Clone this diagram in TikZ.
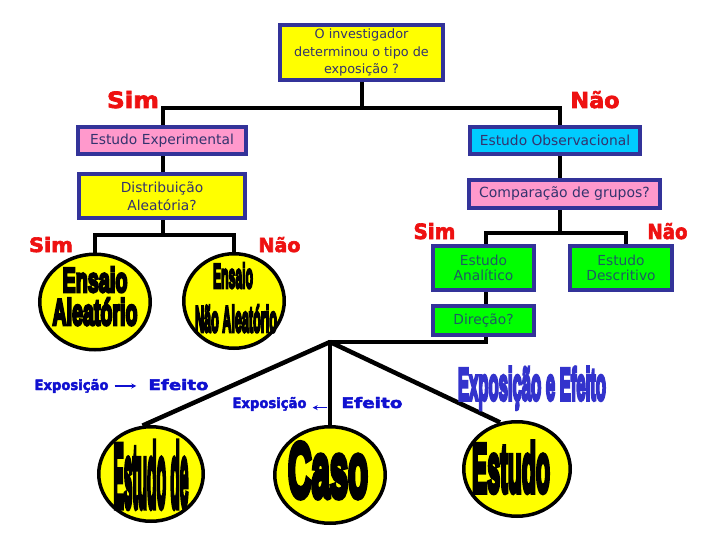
\documentclass[tikz,border=0pt]{standalone}
\usepackage{fontspec}
\setmainfont[BoldFeatures={FakeBold=3}]{DejaVu Sans}
\newfontfamily\impfont[BoldFeatures={FakeBold=8}]{Liberation Sans}
\usetikzlibrary{shapes.geometric,arrows.meta}
\pgfdeclarelayer{bg}
\pgfsetlayers{bg,main}
\definecolor{bord}{RGB}{51,51,153}
\definecolor{boxtxt}{RGB}{51,51,110}
\definecolor{grtxt}{RGB}{30,90,100}
\definecolor{pinkf}{RGB}{255,153,204}
\definecolor{cyanf}{RGB}{0,204,255}
\definecolor{greenf}{RGB}{0,255,0}
\definecolor{yell}{RGB}{255,255,0}
\definecolor{redl}{RGB}{238,17,17}
\definecolor{bluel}{RGB}{16,16,208}
\definecolor{bluebig}{RGB}{51,51,204}
\newcommand\fitt[3]{\resizebox{#1pt}{#2pt}{#3}}
\begin{document}
\begin{tikzpicture}[x=1pt,y=-1pt,
 box/.style={draw=bord, line width=4pt, inner sep=0pt, align=center, text=boxtxt, font=\fontsize{13.8}{17}\selectfont},
 ell/.style={ellipse, draw=black, line width=3.5pt, fill=yell, inner sep=0pt},
 imp/.style={anchor=base, inner sep=0pt, text=black, font=\impfont\bfseries},
 redlab/.style={anchor=base, inner sep=0pt, text=redl, font=\bfseries},
 bluelab/.style={anchor=base, inner sep=0pt, text=bluel, font=\bfseries},
 conn/.style={line width=4.5pt, draw=black},
 barrow/.style={draw=bluel, line width=1.3pt, -{Stealth[length=5pt,width=5pt]}}
]
\useasboundingbox (0,0) rectangle (720,540);

% boxes
\node[box, fill=yell, minimum width=163pt, minimum height=55pt, font=\fontsize{12.8}{17.5}\selectfont] (top) at (361.5,52.5) {O investigador\\determinou o tipo de\\exposição ?};
\node[box, fill=pinkf, minimum width=168pt, minimum height=27pt] (exp) at (162,140.5) {Estudo Experimental};
\node[box, fill=cyanf, minimum width=170pt, minimum height=27pt] (obs) at (555,140.5) {Estudo Observacional};
\node[box, fill=yell, minimum width=166pt, minimum height=44pt, font=\fontsize{13.8}{18}\selectfont] (dist) at (162,196) {Distribuição\\Aleatória?};
\node[box, fill=pinkf, minimum width=191pt, minimum height=28pt, font=\fontsize{14}{17}\selectfont] (comp) at (564.5,194) {Comparação de grupos?};
\node[box, fill=greenf, text=grtxt, minimum width=101pt, minimum height=44pt, font=\fontsize{13.8}{15.5}\selectfont] (ana) at (483.5,268) {Estudo\\Analítico};
\node[box, fill=greenf, text=grtxt, minimum width=102pt, minimum height=44pt, font=\fontsize{13.8}{15.5}\selectfont] (desc) at (621,268) {Estudo\\Descritivo};
\node[box, fill=greenf, text=grtxt, minimum width=101pt, minimum height=29pt] (dir) at (483.5,320.5) {Direção?};

% ellipses
\node[ell, minimum width=110.5pt, minimum height=95.5pt] (e1) at (95,302) {};
\node[imp] (t1a) at (95,292) {\fitt{65}{25}{Ensaio}};
\node[imp] (t1b) at (95,325) {\fitt{85}{27}{Aleatório}};
\node[ell, minimum width=100.5pt, minimum height=94.5pt] (e2) at (234,301) {};
\node[imp] (t2a) at (233,288) {\fitt{40}{25}{Ensaio}};
\node[imp] (t2b) at (236,332) {\fitt{82}{27}{Não Aleatório}};
\node[ell, minimum width=104.5pt, minimum height=94.5pt] (e3) at (151,474) {};
\node[imp] (t3) at (151,507) {\fitt{75}{65}{Estudo de}};
\node[ell, minimum width=110.5pt, minimum height=96.5pt] (e4) at (330,475) {};
\node[imp] (t4) at (328,497) {\fitt{80}{54}{Caso}};
\node[ell, minimum width=106.5pt, minimum height=94.5pt] (e5) at (517,469) {};
\node[imp] (t5) at (511,492) {\fitt{78}{50}{Estudo}};

\node[imp, text=bluebig] (ee) at (532,400) {\fitt{148}{33}{Exposição e Efeito}};

% red labels
\node[redlab] (s1) at (133,108) {\fitt{52}{17}{Sim}};
\node[redlab] (n1) at (595,108) {\fitt{49}{17}{Não}};
\node[redlab] (s2) at (51,252) {\fitt{44}{15}{Sim}};
\node[redlab] (n2) at (279.5,252) {\fitt{42}{15}{Não}};
\node[redlab] (s3) at (434.5,239) {\fitt{42}{16}{Sim}};
\node[redlab] (n3) at (667.5,239) {\fitt{40}{16}{Não}};

% blue labels
\node[bluelab] (ex1) at (71.5,390) {\fitt{74}{11}{Exposição}};
\node[bluelab] (ef1) at (178.5,390) {\fitt{60}{11}{Efeito}};
\node[bluelab] (ex2) at (269.5,408) {\fitt{74}{11}{Exposição}};
\node[bluelab] (ef2) at (372,408) {\fitt{61}{11}{Efeito}};
\draw[barrow, shorten <=6pt, shorten >=12pt] (ex1.east) -- (ex1.east -| ef1.west);
\draw[barrow, shorten <=14pt, shorten >=6pt] ([yshift=-5pt]ef2.west) -- ([yshift=-5pt]ef2.west -| ex2.east);

% connectors
\coordinate (j1) at (362,108);
\coordinate (j2) at (163,235);
\coordinate (j4) at (560,233);
\coordinate (j5) at (330,342);
\coordinate (xo) at (560,0);
\coordinate (xa) at (486,0);
\coordinate (xd) at (626,0);
\coordinate (xe) at (163,0);
\begin{pgfonlayer}{bg}
\fill[white] (0,0) rectangle (720,540);
\draw[conn] (top.south -| j1) -- (j1);
\draw[conn] (exp.north -| xe) |- (j1) -| (obs.north -| xo);
\draw[conn] (exp.south -| xe) -- (dist.north -| xe);
\draw[conn] (dist.south -| xe) -- (j2);
\draw[conn] (e1.north) |- (j2) -| (e2.north);
\draw[conn] (obs.south -| xo) -- (comp.north -| xo);
\draw[conn] (comp.south -| xo) -- (j4);
\draw[conn] (ana.north -| xa) |- (j4) -| (desc.north -| xd);
\draw[conn] (ana.south -| xa) -- (dir.north -| xa);
\draw[conn] (dir.south -| xa) |- ([xshift=-2pt]j5);
\draw[conn] (j5) -- (e3.100);
\draw[conn] (j5) -- (e4.north);
\draw[conn] (j5) -- (e5.110);
\end{pgfonlayer}
\end{tikzpicture}
\end{document}
